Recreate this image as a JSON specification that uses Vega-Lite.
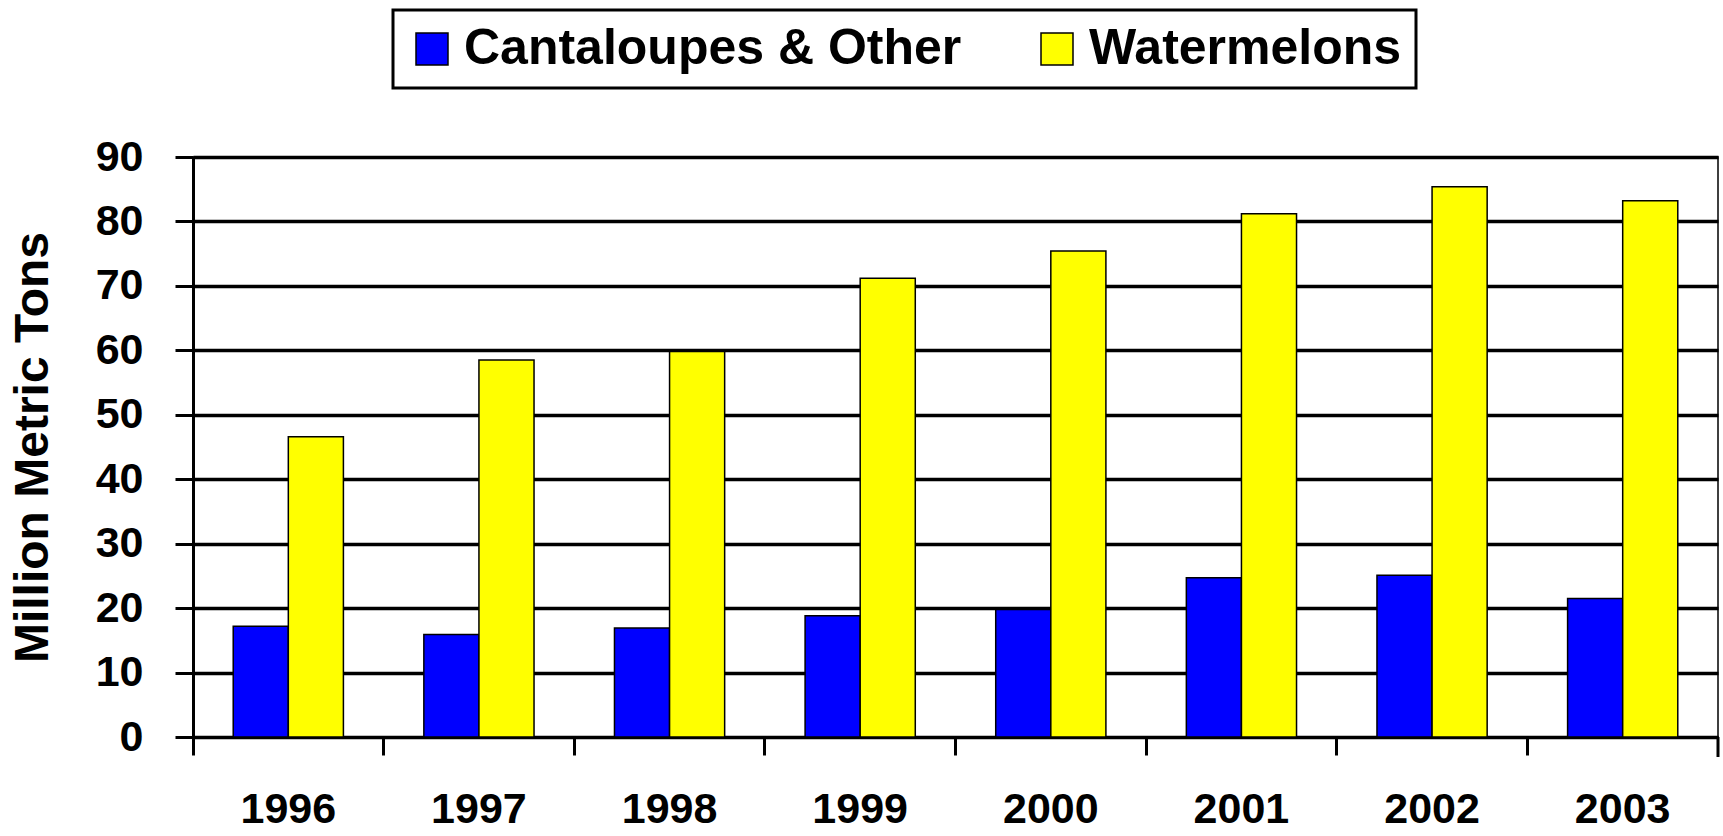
{
  "$schema": "https://vega.github.io/schema/vega-lite/v6.json",
  "width": 1525,
  "height": 580,
  "autosize": {"type": "none"},
  "padding": {"left": 193, "top": 157, "right": 5, "bottom": 99},
  "background": "white",
  "view": {"stroke": "black", "strokeWidth": 1.5},
  "config": {
    "font": "Liberation Sans",
    "legend": {"strokeWidth": 3}
  },
  "data": {
    "values": [
      {"year": "1996", "series": "Cantaloupes & Other", "value": 17.2},
      {"year": "1996", "series": "Watermelons", "value": 46.6},
      {"year": "1997", "series": "Cantaloupes & Other", "value": 15.9},
      {"year": "1997", "series": "Watermelons", "value": 58.5},
      {"year": "1998", "series": "Cantaloupes & Other", "value": 16.9},
      {"year": "1998", "series": "Watermelons", "value": 59.8},
      {"year": "1999", "series": "Cantaloupes & Other", "value": 18.8},
      {"year": "1999", "series": "Watermelons", "value": 71.2},
      {"year": "2000", "series": "Cantaloupes & Other", "value": 19.8},
      {"year": "2000", "series": "Watermelons", "value": 75.4},
      {"year": "2001", "series": "Cantaloupes & Other", "value": 24.7},
      {"year": "2001", "series": "Watermelons", "value": 81.2},
      {"year": "2002", "series": "Cantaloupes & Other", "value": 25.1},
      {"year": "2002", "series": "Watermelons", "value": 85.4},
      {"year": "2003", "series": "Cantaloupes & Other", "value": 21.5},
      {"year": "2003", "series": "Watermelons", "value": 83.2}
    ]
  },
  "layer": [
    {
      "mark": {"type": "bar", "stroke": "black", "strokeWidth": 1.5},
      "encoding": {
        "x": {
          "field": "year",
          "type": "nominal",
          "scale": {"paddingInner": 0, "paddingOuter": 0},
          "axis": {
            "title": null,
            "bandPosition": 0,
            "labelAngle": 0,
            "labelFont": "Liberation Sans",
            "labelFontWeight": "bold",
            "labelFontSize": 43,
            "labelColor": "black",
            "labelPadding": 33,
            "labelBaseline": "top",
            "domainColor": "black",
            "domainWidth": 3,
            "tickColor": "black",
            "tickWidth": 3,
            "tickSize": 18,
            "grid": false
          }
        },
        "xOffset": {
          "field": "series",
          "type": "nominal",
          "scale": {"paddingInner": 0, "paddingOuter": 0.73}
        },
        "y": {
          "field": "value",
          "type": "quantitative",
          "scale": {"domain": [0, 90], "nice": false},
          "axis": {
            "title": "Million Metric Tons",
            "titleFont": "Liberation Sans",
            "titleFontWeight": "bold",
            "titleFontSize": 48,
            "titleColor": "black",
            "titlePadding": 38,
            "values": [0, 10, 20, 30, 40, 50, 60, 70, 80, 90],
            "labelFont": "Liberation Sans",
            "labelFontWeight": "bold",
            "labelFontSize": 43,
            "labelColor": "black",
            "labelPadding": 32,
            "domainColor": "black",
            "domainWidth": 3,
            "tickColor": "black",
            "tickWidth": 3,
            "tickSize": 18,
            "grid": true,
            "gridColor": "black",
            "gridWidth": 3.5,
            "gridOpacity": 1
          }
        },
        "color": {
          "field": "series",
          "type": "nominal",
          "scale": {"domain": ["Cantaloupes & Other", "Watermelons"], "range": ["#0000FF", "#FFFF00"]},
          "legend": {
            "title": null,
            "orient": "none",
            "legendX": 200,
            "legendY": -147,
            "direction": "horizontal",
            "columns": 2,
            "columnPadding": 70,
            "symbolType": "square",
            "symbolSize": 1024,
            "symbolStrokeColor": "black",
            "symbolStrokeWidth": 1.5,
            "symbolOpacity": 1,
            "labelFont": "Liberation Sans",
            "labelFontWeight": "bold",
            "labelFontSize": 50,
            "labelColor": "black",
            "labelOffset": 7,
            "labelLimit": 1000,
            "padding": 14,
            "strokeColor": "black",
            "fillColor": "white"
          }
        }
      }
    },
    {
      "data": {"values": [{"year": "2003", "lo": 0, "hi": -3.1}]},
      "mark": {"type": "rule", "color": "black", "strokeWidth": 3, "clip": false},
      "encoding": {
        "x": {"field": "year", "type": "nominal", "bandPosition": 1},
        "y": {"field": "lo", "type": "quantitative"},
        "y2": {"field": "hi"}
      }
    }
  ]
}
